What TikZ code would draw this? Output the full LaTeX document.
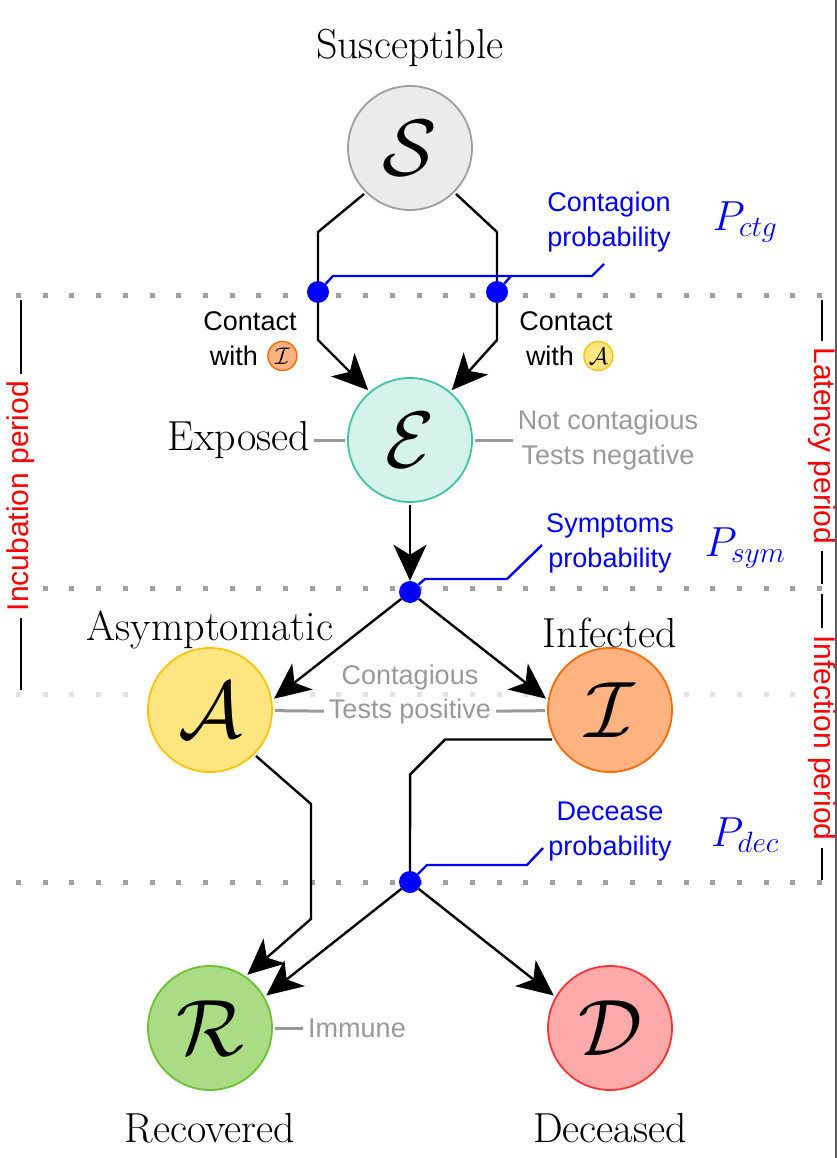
\RequirePackage{fix-cm}
\documentclass[tikz,border=0pt]{standalone}
\usepackage{fontspec}
\setsansfont{Liberation Sans}
\usepackage{tikz}
\usetikzlibrary{arrows.meta, positioning}

\definecolor{sFill}{HTML}{EBEBEB}
\definecolor{sDraw}{HTML}{9E9E9E}
\definecolor{eFill}{HTML}{D5F2EB}
\definecolor{eDraw}{HTML}{3CC4A3}
\definecolor{aFill}{HTML}{FFE680}
\definecolor{aDraw}{HTML}{FFC200}
\definecolor{iFill}{HTML}{FFB380}
\definecolor{iDraw}{HTML}{FF6A00}
\definecolor{rFill}{HTML}{A9DC84}
\definecolor{rDraw}{HTML}{6CC033}
\definecolor{dFill}{HTML}{FFAAAA}
\definecolor{dDraw}{HTML}{FF3333}
\definecolor{noteGray}{HTML}{999999}
\definecolor{dotGray}{HTML}{A0A0A0}
\definecolor{dotLight}{HTML}{E3E3E3}
\definecolor{edgeGray}{HTML}{595959}

\begin{document}
\begin{tikzpicture}[
  x=1pt, y=-1pt,
  compartment/.style={
    circle,
    line width=1.8pt,
    minimum size=124pt,
    inner sep=0pt,
    outer sep=3pt,
    font=\fontsize{80}{80}\selectfont
  },
  statelbl/.style={font=\fontsize{42}{46}\selectfont},
  note/.style={
    font=\fontsize{27}{35}\selectfont\sffamily,
    text=noteGray,
    align=center,
    inner sep=5pt
  },
  prob/.style={
    font=\fontsize{27}{35}\selectfont\sffamily,
    text=blue,
    align=center
  },
  pvar/.style={font=\fontsize{42}{46}\selectfont, text=blue},
  contact/.style={font=\fontsize{27}{35}\selectfont\sffamily, inner sep=0pt},
  badge/.style={
    circle,
    line width=1.4pt,
    minimum size=29pt,
    inner sep=0pt,
    font=\fontsize{24}{24}\selectfont
  },
  period/.style={
    font=\fontsize{30}{33}\selectfont\sffamily,
    text=red,
    fill=white,
    inner sep=7pt
  },
  bracket/.style={line width=2.2pt},
  link/.style={line width=2.4pt},
  arrow/.style={
    line width=2.4pt,
    -{Stealth[length=36pt, width=33pt, inset=10pt]}
  },
  leader/.style={draw=blue, line width=2.4pt},
  junction/.style={circle, fill=blue, minimum size=22pt, inner sep=0pt},
  greyline/.style={draw=noteGray, line width=3pt},
  divider/.style={draw=dotGray, line width=5pt, dash pattern=on 5pt off 21.7pt}
]
\useasboundingbox (0,0) rectangle (837,1158);

% Dotted period separators
\draw[divider] (16,295) -- (822,295);
\draw[divider] (16,588) -- (822,588);
\draw[divider, draw=dotLight] (16,694) -- (822,694);
\draw[divider] (16,882) -- (822,882);

% Compartments
\node[compartment, fill=sFill, draw=sDraw] (S) at (410,148) {$\mathcal{S}$};
\node[compartment, fill=eFill, draw=eDraw] (E) at (410,440) {$\mathcal{E}$};
\node[compartment, fill=aFill, draw=aDraw] (A) at (210,710) {$\mathcal{A}$};
\node[compartment, fill=iFill, draw=iDraw] (I) at (610,710) {$\mathcal{I}$};
\node[compartment, fill=rFill, draw=rDraw] (R) at (210,1028) {$\mathcal{R}$};
\node[compartment, fill=dFill, draw=dDraw] (D) at (610,1028) {$\mathcal{D}$};

% Compartment names
\node[statelbl] (lS) at (410,48) {Susceptible};
\node[statelbl] (lE) at (239,440) {Exposed};
\node[statelbl] (lA) at (210,630) {Asymptomatic};
\node[statelbl] (lI) at (610,633) {Infected};
\node[statelbl] (lR) at (210,1128) {Recovered};
\node[statelbl] (lD) at (610,1128) {Deceased};

% Probability junctions
\node[junction] (jI) at (318,292) {};
\node[junction] (jA) at (497,292) {};
\node[junction] (jsym) at (410,592) {};
\node[junction] (jdec) at (410,882) {};

% Transitions
\draw[arrow] (S.225) -- ++(-46,38) -- (jI) -- ++(0,48) -- (E.130);
\draw[arrow] (S.-45) -- ++(41,38) -- (jA) -- ++(0,48) -- (E.50);
\draw[arrow] (E) -- (jsym);
\draw[arrow] (jsym) -- (A.10);
\draw[arrow] (jsym) -- (I.170);
\draw[arrow] (A.-45) -- ++(55,48) -- ++(0,115) -- (R.55);
\draw[link] (I.207) -- ++(-107,0) -- ++(-35,35) -- (jdec);
\draw[arrow] (jdec) -- (R.30);
\draw[arrow] (jdec) -- (D.150);

% Contact labels
\node[contact] (cI) at (250,321) {Contact};
\node[contact] (wI) at (234,356) {with};
\node[badge, fill=iFill, draw=iDraw, right=9pt of wI] (bI) {$\mathcal{I}$};
\node[contact] (cA) at (566,321) {Contact};
\node[contact] (wA) at (550,356) {with};
\node[badge, fill=aFill, draw=aDraw, right=9pt of wA] (bA) {$\mathcal{A}$};

% Probabilities
\node[prob] (pctg) at (609,222) {Contagion\\probability};
\node[pvar] (Pctg) at (745,222) {$P_{ctg}$};
\node[prob] (psym) at (610,543) {Symptoms\\probability};
\node[pvar] (Psym) at (745,548) {$P_{sym}$};
\node[prob] (pdec) at (610,832) {Decease\\probability};
\node[pvar] (Pdec) at (745,835) {$P_{dec}$};

\draw[leader] (jI) -- ++(15,-16) -- ++(259,0) -- ++(12,-12);
\draw[leader] (jA) -- ++(14,-16);
\draw[leader] (jsym) -- ++(15,-13) -- ++(82,0) -- ++(35,-34);
\draw[leader] (jdec) -- ++(17,-17) -- ++(100,0) -- ++(16,-17);

% Test notes
\node[note] (nE) at (608,440) {Not contagious\\Tests negative};
\node[note] (ctg) at (410,678) {Contagious};
\node[note] (tpos) at (410,712) {Tests positive};
\node[note] (imm) at (357,1028) {Immune};

\draw[greyline] (lE) -- (E);
\draw[greyline] (E) -- (nE);
\draw[greyline] (A) -- (tpos);
\draw[greyline] (tpos) -- (I);
\draw[greyline] (R) -- (imm);

% Period brackets
\draw[bracket] (21,300) -- (21,690);
\node[period, rotate=90] (incub) at (21,496) {Incubation period};
\draw[bracket] (822,300) -- (822,584);
\draw[bracket] (822,594) -- (822,880);
\node[period, rotate=-90] (lat) at (822,446) {Latency period};
\node[period, rotate=-90] (inf) at (822,738) {Infection period};

% Page edge
\draw[edgeGray, line width=2pt] (835.5,0) -- (835.5,1158);

\end{tikzpicture}
\end{document}
